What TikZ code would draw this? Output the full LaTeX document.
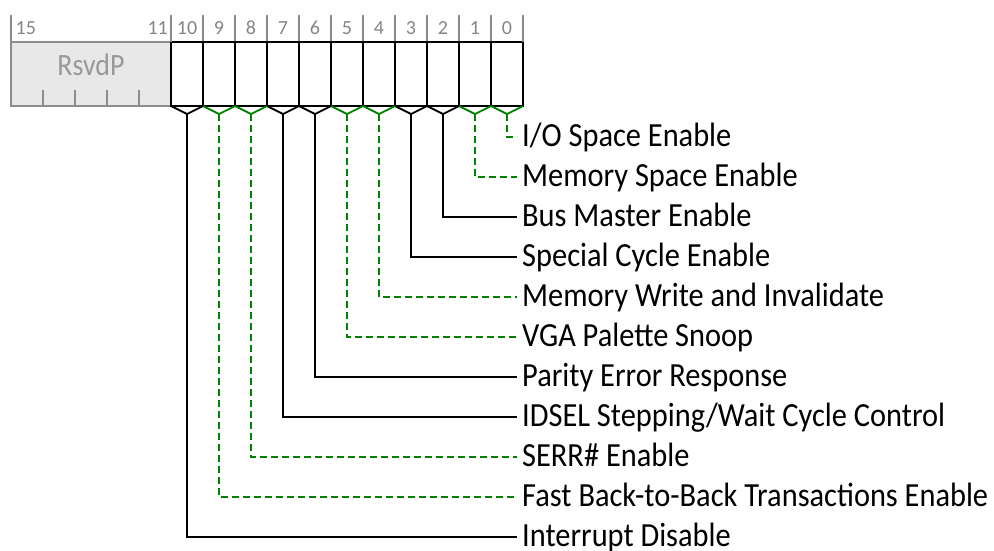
\documentclass[tikz,border=0pt]{standalone}
\usepackage{fontspec}
\setmainfont{Carlito}
\newfontfamily\labfont[FakeStretch=0.9]{Carlito}
\newlength\labw
\AtBeginDocument{\settowidth\labw{\labfont\fontsize{10pt}{12pt}\selectfont Fast Back-to-Back Transactions Enable}}
\definecolor{regGreen}{HTML}{008000}
\definecolor{tickGray}{HTML}{8C8C8C}
\definecolor{numGray}{HTML}{858585}
\definecolor{rsvFill}{HTML}{E8E8E8}
\definecolor{rsvText}{HTML}{999999}
\begin{document}
\begin{tikzpicture}[x=1pt,y=-1pt,
  cell/.style={draw=black,line width=2pt,minimum width=32pt,minimum height=64pt,inner sep=0pt,outer sep=0pt},
  rsv/.style={draw=tickGray,fill=rsvFill,line width=2pt,minimum width=160pt,minimum height=64pt,inner sep=0pt,outer sep=0pt},
  rsvlabel/.style={text=rsvText,font=\labfont\fontsize{31pt}{31pt}\selectfont,inner sep=0pt,anchor=base},
  tickline/.style={draw=tickGray,line width=1.4pt},
  bitnum/.style={text=numGray,font=\fontsize{20pt}{20pt}\selectfont,inner sep=0pt,anchor=base},
  solidlead/.style={draw=black,line width=1.8pt},
  dashlead/.style={draw=regGreen,line width=1.8pt},
  dashpart/.style={dash pattern=on 7pt off 4pt},
]
\useasboundingbox (0,0) rectangle (994,550);
\pgfmathsetmacro\labsize{10*466/\labw}
\tikzset{lab/.style={font=\labfont\fontsize{\labsize pt}{\labsize pt}\selectfont,anchor=west,inner xsep=5pt,inner ysep=0pt,text height=19pt,text depth=0pt}}

% reserved field
\node[rsv] (rsvd) at (91,74) {};
\node[rsvlabel] (rsvdtxt) at (91,75) {RsvdP};
\foreach \x in {43,75,107,139}{\draw[tickline] (\x,90) -- (\x,105);}
\node[bitnum,anchor=base west] (n15) at (15.5,34.5) {15};
\node[bitnum,anchor=base east] (n11) at (168,34.5) {11};
\draw[tickline] (11,15) -- (11,42);

% cells
\foreach \b in {0,...,10}{
  \pgfmathsetmacro\cx{507-32*\b}
  \node[cell] (b\b) at (\cx,74) {};
  \node[bitnum] (n\b) at (\cx,34.5) {\b};
  \draw[tickline] (\cx-16,15) -- (\cx-16,42);
}
\draw[tickline] (523,15) -- (523,42);

% labels and leaders
\foreach \b/\txt/\sty [count=\k from 0] in {
  0/I\slash O Space Enable/dashlead,
  1/Memory Space Enable/dashlead,
  2/Bus Master Enable/solidlead,
  3/Special Cycle Enable/solidlead,
  4/Memory Write and Invalidate/dashlead,
  5/VGA Palette Snoop/dashlead,
  6/Parity Error Response/solidlead,
  7/IDSEL Stepping\slash Wait Cycle Control/solidlead,
  8/SERR\# Enable/dashlead,
  9/Fast Back-to-Back Transactions Enable/dashlead,
  10/Interrupt Disable/solidlead}{
  \pgfmathsetmacro\ly{137+40*\k}
  \node[lab] (l\b) at (517,\ly) {\txt};
  \draw[\sty] (b\b.south west) -- ++(16,8) coordinate (v\b) -- (b\b.south east);
  \ifnum\pdfstrcmp{\sty}{dashlead}=0
    \draw[\sty,dashpart] (v\b) |- (l\b.west);
  \else
    \draw[\sty] (v\b) |- (l\b.west);
  \fi
}
\end{tikzpicture}
\end{document}
